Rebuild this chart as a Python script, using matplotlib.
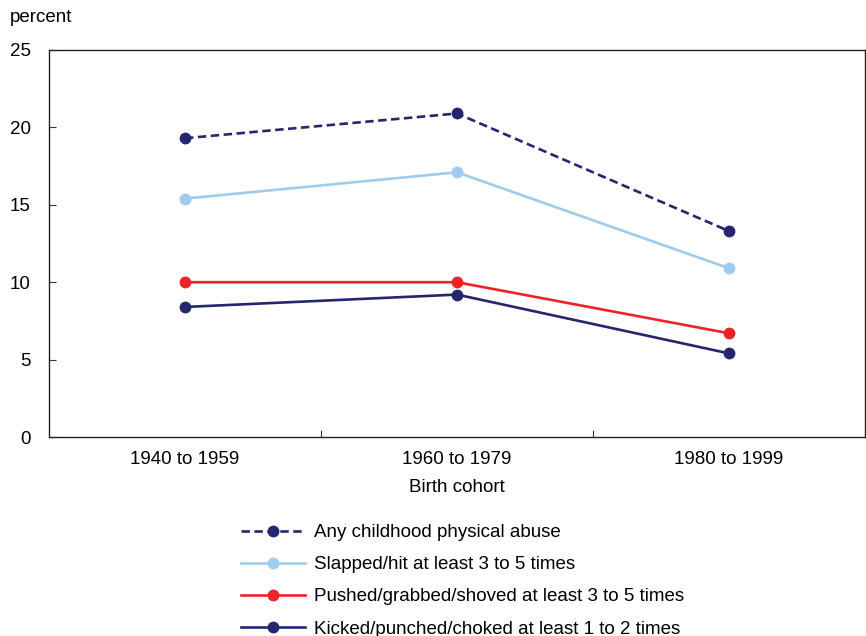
import matplotlib
matplotlib.use("Agg")
import matplotlib.pyplot as plt
from matplotlib import font_manager

names = {f.name for f in font_manager.fontManager.ttflist}
fam = ["Liberation Sans Narrow", "DejaVu Sans"] if "Liberation Sans Narrow" in names else ["Liberation Sans", "DejaVu Sans"]
plt.rcParams['font.family'] = fam

categories = ["1940 to 1959", "1960 to 1979", "1980 to 1999"]
any_abuse = [19.3, 20.9, 13.3]
slapped = [15.4, 17.1, 10.9]
pushed = [10.0, 10.0, 6.7]
kicked = [8.4, 9.2, 5.4]
series_labels = ["Any childhood physical abuse",
                 "Slapped/hit at least 3 to 5 times",
                 "Pushed/grabbed/shoved at least 3 to 5 times",
                 "Kicked/punched/choked at least 1 to 2 times"]
yticks = [0, 5, 10, 15, 20, 25]

navy = "#25276E"
light = "#9FCBEC"
red = "#EE2328"

fig = plt.figure(figsize=(8.66, 6.36), dpi=100)
ax = fig.add_axes([49/866, 1-437/636, 816/866, 387/636])

x = list(range(len(categories)))
lw = 1.9
ms = 7.5
ax.plot(x, any_abuse, color=navy, lw=lw, ls=(0, (3.2, 1.7)), marker='o', ms=ms, label=series_labels[0])
ax.plot(x, slapped, color=light, lw=lw, marker='o', ms=ms, label=series_labels[1])
ax.plot(x, pushed, color=red, lw=lw, marker='o', ms=ms, label=series_labels[2])
ax.plot(x, kicked, color=navy, lw=lw, marker='o', ms=ms, label=series_labels[3])

ax.set_xlim(-0.5, 2.5)
ax.set_ylim(0, 25)
ax.set_yticks(yticks)
ax.set_yticklabels([str(v) for v in yticks], fontsize=13.5)
ax.set_xticks([0.5, 1.5], minor=False)
ax.set_xticklabels([])
ax.set_xticks(x, minor=True)
ax.set_xticklabels(categories, minor=True, fontsize=13.5)
ax.tick_params(axis='x', which='major', direction='in', length=5, color='#333333')
ax.tick_params(axis='x', which='minor', length=0, pad=10)
ax.tick_params(axis='y', direction='in', length=5, pad=13, color='#333333')
for s in ax.spines.values():
    s.set_linewidth(1.0)
    s.set_color('#222222')

ax.set_xlabel("Birth cohort", fontsize=13.5, labelpad=8)
fig.text(10/866, 1-18/636, "percent", fontsize=13.5, va='center', ha='left')

leg = fig.legend(loc='upper left', bbox_to_anchor=(241/866, 1-524/636), frameon=False,
                 fontsize=13.5, handlelength=3.4, handletextpad=0.5, labelspacing=0.8,
                 borderpad=0, borderaxespad=0)

fig.savefig("out.png", dpi=100)
